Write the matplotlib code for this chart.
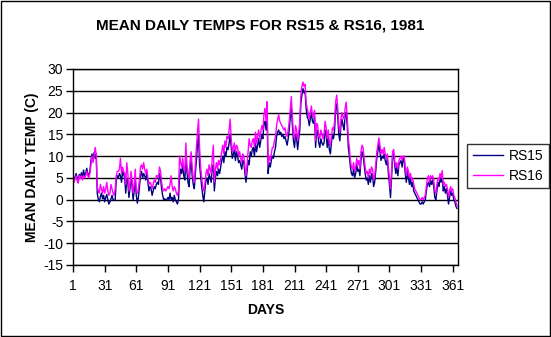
import matplotlib
matplotlib.use("Agg")
import matplotlib.pyplot as plt
from matplotlib.patches import Rectangle
import numpy as np

days = list(range(1, 366))

rs15 = [
    5.5, 4.8, 5.2, 6.0, 5.0, 4.5, 5.8, 5.2, 6.2, 5.0,
    6.8, 5.5, 6.0, 7.2, 6.0, 5.5, 6.5, 9.0, 10.5, 9.0,
    10.8, 9.5, 10.5, 1.5, 0.0, -0.5, 0.8, 1.5, 0.2, 1.0,
    -0.5, 0.5, 1.2, 0.0, -1.0, -0.5, 0.2, 1.0, 0.0, -0.2,
    0.0, 4.5, 5.5, 5.0, 6.0, 5.5, 4.0, 6.5, 5.8, 5.0,
    1.5, 5.0, 4.0, 0.5, 2.5, 5.5, 3.0, 0.0, 2.0, 4.5,
    1.0, -0.8, 0.5, 3.0, 5.5, 6.5, 5.0, 6.0, 5.5, 4.5,
    6.0, 4.0, 2.0, 3.0, 2.5, 1.0, 2.0, 3.0, 2.5, 3.5,
    4.0, 3.5, 6.0, 5.0, 2.5, 1.0, 0.0, 0.2, 0.0, 0.0,
    0.5, 0.0, 1.5, 0.0, 0.5, -0.5, 1.0, 0.0, -0.5, -1.0,
    0.0, 5.0, 7.0, 6.0, 8.0, 5.5, 4.5, 9.0, 6.5, 4.0,
    3.0, 7.0, 9.0, 5.5, 3.5, 2.5, 6.0, 9.0, 12.5, 15.0,
    8.0, 5.5, 3.0, 1.0, -0.5, 2.0, 4.5, 5.0, 3.5, 6.0,
    5.0, 4.0, 7.5, 8.0, 2.0, 5.0, 6.5, 5.5, 7.0, 6.0,
    7.5, 9.0, 10.0, 8.5, 11.0, 10.0, 12.0, 11.5, 13.0, 15.0,
    12.0, 9.5, 10.5, 11.5, 9.0, 11.0, 10.0, 8.5, 9.0, 8.0,
    7.0, 9.0, 8.5, 6.0, 4.0, 6.5, 9.0, 8.0, 11.0, 10.0,
    11.5, 12.0, 10.0, 13.0, 11.0, 12.5, 14.0, 12.0, 13.5, 15.0,
    14.0, 17.5, 18.0, 16.0, 19.5, 6.0, 8.5, 7.5, 9.0, 10.0,
    9.5, 11.0, 12.0, 14.5, 15.5, 16.0, 15.0, 15.5, 14.5, 15.0,
    14.0, 14.5, 13.5, 12.5, 14.0, 16.0, 19.0, 21.0, 17.0, 13.5,
    12.0, 15.0, 14.0, 11.5, 14.0, 16.0, 22.0, 24.0, 25.5, 24.5,
    25.0, 21.0, 19.0, 18.5, 17.0, 18.5, 20.0, 18.0, 17.5, 19.0,
    12.0, 16.0, 15.5, 13.0, 12.0, 14.0, 13.0, 12.5, 13.0, 16.0,
    15.0, 12.0, 14.5, 11.5, 10.5, 13.0, 15.0, 14.0, 16.0, 21.0,
    22.0, 19.0, 15.0, 13.5, 17.0, 18.5, 17.0, 16.0, 19.5, 20.0,
    17.0, 12.0, 10.0, 7.5, 6.0, 5.5, 7.0, 5.0, 6.0, 8.0,
    6.5, 7.0, 5.5, 9.0, 11.0, 10.5, 8.0, 6.0, 4.5, 5.0,
    3.5, 5.5, 4.0, 6.0, 5.5, 3.0, 4.0, 6.5, 9.5, 11.0,
    13.0, 11.0, 9.0, 10.0, 9.5, 10.5, 9.0, 8.0, 9.5, 6.0,
    3.5, 0.5, 5.0, 10.0, 10.5, 8.0, 6.0, 7.5, 5.5, 8.0,
    8.5, 9.0, 7.5, 9.5, 9.0, 6.0, 4.0, 6.5, 5.0, 3.5,
    5.0, 3.0, 4.0, 2.0, 1.5, 1.0, 0.5, 0.0, -0.5, -1.0,
    -1.0, -0.5, -1.0, -0.5, 0.0, 2.0, 3.5, 4.0, 3.0, 4.5,
    3.5, 4.5, 3.0, 0.5, 0.0, 2.0, 4.0, 3.0, 5.0, 4.0,
    5.5, 2.0, 3.0, 1.5, 2.5, 1.0, -1.0, 0.5, 2.0, 1.0,
    1.5, 0.0, -0.5, -1.5, -2.0,
]

rs16 = [
    4.5, 4.0, 4.8, 5.5, 4.2, 3.8, 5.5, 4.8, 5.5, 4.5,
    5.5, 5.0, 5.5, 6.5, 5.5, 5.0, 6.0, 8.0, 10.0, 8.5,
    10.0, 12.0, 10.5, 3.0, 2.0, 1.5, 3.5, 2.5, 1.5, 3.0,
    1.5, 2.5, 4.0, 2.0, 1.0, 1.5, 3.5, 2.5, 1.5, 1.0,
    2.5, 5.5, 6.5, 6.5, 7.0, 9.5, 6.0, 7.5, 6.5, 6.0,
    3.5, 8.5, 6.0, 2.0, 3.5, 6.5, 4.5, 1.5, 3.5, 7.0,
    2.0, 1.5, 2.5, 4.5, 7.5, 8.0, 7.0, 8.5, 7.0, 6.0,
    7.0, 5.0, 3.5, 4.0, 3.5, 2.5, 3.5, 4.5, 4.0, 5.5,
    5.5, 5.0, 7.5, 6.5, 4.0, 2.5, 2.0, 2.5, 2.0, 2.5,
    3.0, 2.5, 3.5, 5.5, 3.0, 2.0, 3.0, 2.5, 1.5, 1.0,
    2.0, 10.0, 8.5, 7.5, 9.5, 7.0, 6.5, 13.0, 8.0, 6.0,
    5.0, 9.0, 11.0, 7.5, 5.0, 4.0, 8.0, 12.0, 15.5, 18.5,
    12.0, 7.5, 5.0, 3.0, 2.0, 3.5, 6.0, 7.0, 5.5, 8.0,
    7.0, 6.0, 9.5, 12.5, 4.0, 7.0, 8.5, 7.0, 9.0, 8.0,
    9.5, 11.0, 12.5, 10.5, 13.5, 12.0, 14.5, 14.0, 16.0, 18.5,
    14.0, 11.0, 12.0, 13.0, 11.0, 12.5, 12.0, 10.0, 11.0, 9.5,
    8.5, 10.5, 10.0, 7.5, 5.5, 8.0, 11.0, 14.0, 12.5, 12.0,
    13.5, 14.0, 12.0, 15.5, 13.0, 14.5, 16.0, 14.0, 15.5, 17.0,
    16.0, 19.5, 21.0, 18.0, 22.5, 8.0, 10.0, 9.0, 10.5, 12.0,
    12.0, 13.5, 14.5, 17.0, 18.5, 19.5, 18.0, 17.5, 17.0, 16.5,
    16.0, 16.5, 15.0, 14.5, 16.0, 18.0, 21.0, 23.7, 19.0, 15.0,
    14.0, 17.0, 16.0, 13.5, 15.5, 18.0, 24.0, 26.0, 27.0, 26.0,
    26.5, 22.5, 21.0, 20.0, 18.5, 20.0, 21.5, 19.5, 19.0, 20.5,
    13.5, 17.5, 17.0, 14.5, 14.0, 16.0, 15.0, 14.0, 15.0, 18.0,
    16.5, 14.0, 16.0, 13.0, 12.5, 14.5, 16.5, 16.0, 18.0, 22.5,
    24.0, 21.0, 17.0, 15.5, 18.5, 20.0, 19.0, 18.5, 21.0, 22.4,
    19.0, 14.0, 12.0, 9.0, 7.5, 7.0, 8.5, 6.5, 7.5, 9.5,
    8.0, 9.0, 7.0, 11.0, 12.5, 12.0, 9.5, 7.5, 6.0, 6.5,
    5.0, 7.0, 6.0, 7.5, 7.0, 4.5, 5.5, 8.0, 11.0, 12.5,
    14.2, 12.5, 10.5, 11.5, 10.5, 12.0, 10.5, 9.5, 10.5, 7.5,
    5.0, 2.5, 6.5, 11.0, 11.5, 9.0, 7.5, 8.5, 7.0, 9.0,
    9.5, 10.0, 9.0, 10.0, 10.0, 7.5, 5.5, 7.5, 6.5, 5.0,
    6.0, 4.5, 5.0, 3.5, 2.5, 2.0, 1.5, 1.0, 0.5, 0.0,
    0.0, 0.5, 0.0, 0.5, 1.0, 3.0, 5.0, 5.5, 4.0, 5.5,
    5.0, 5.5, 4.5, 2.0, 1.5, 3.5, 5.0, 4.5, 6.0, 5.0,
    6.7, 3.5, 4.0, 3.0, 3.5, 2.5, 0.5, 2.0, 3.0, 2.0,
    2.5, 1.0, 0.5, -0.5, -1.5,
]

xticks = list(range(1, 366, 30))
yticks = list(range(-15, 31, 5))

plt.rcParams['font.family'] = ['Liberation Sans', 'DejaVu Sans']

fig = plt.figure(figsize=(5.51, 3.37), dpi=100)
ax = fig.add_axes([73/551, 1-265/337, (458-73)/551, (265-69)/337])

ax.plot(days, rs15, color='#000080', lw=1.0, label='RS15')
ax.plot(days, rs16, color='#FF00FF', lw=1.0, label='RS16')

ax.set_xlim(1, 366)
ax.set_ylim(-15, 30)
ax.set_xticks(xticks)
ax.set_xticklabels([str(t) for t in xticks], fontsize=10)
ax.set_yticks(yticks)
ax.set_yticklabels([str(t) for t in yticks], fontsize=10)
ax.yaxis.grid(True, color='black', lw=1)
ax.set_axisbelow(True)
ax.tick_params(direction='out', length=5, width=1, color='black')
ax.tick_params(axis='x', pad=5)
ax.tick_params(axis='y', pad=2)
for s in ax.spines.values():
    s.set_color('black')
    s.set_linewidth(1)

ax.set_xlabel('DAYS', fontsize=10, fontweight='bold', labelpad=7)
ax.set_ylabel('MEAN DAILY TEMP (C)', fontsize=10, fontweight='bold', labelpad=3)

fig.text(260/551, 1-26/337, 'MEAN DAILY TEMPS FOR RS15 & RS16, 1981',
         ha='center', va='center', fontsize=11, fontweight='bold')

leg = ax.legend(loc='center left', bbox_to_anchor=(467/551, 1-166/337),
                bbox_transform=fig.transFigure, fontsize=10, frameon=True,
                fancybox=False, edgecolor='black', handlelength=2.2,
                borderpad=0.4, labelspacing=0.4, handletextpad=0.4,
                borderaxespad=0)
leg.get_frame().set_linewidth(1)

fig.patches.append(Rectangle((0.001, 0.002), 0.997, 0.996, transform=fig.transFigure,
                             fill=False, edgecolor='black', lw=1))

fig.savefig('out.png', dpi=100)
